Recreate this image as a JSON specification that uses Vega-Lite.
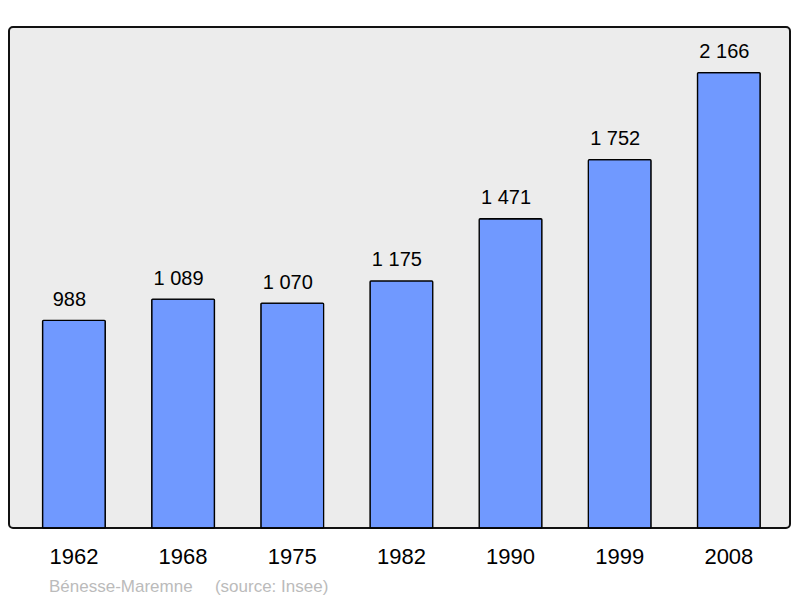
{
  "$schema": "https://vega.github.io/schema/vega-lite/v6.json",
  "width": 781,
  "height": 501,
  "autosize": {"type": "none"},
  "padding": {"left": 9, "top": 27, "right": 10, "bottom": 70},
  "background": "white",
  "config": {
    "font": "Liberation Sans",
    "locale": {"number": {"decimal": ",", "thousands": "\u00a0", "grouping": [3], "currency": ["", " €"]}},
    "view": {"fill": "#ececec", "stroke": "#111111", "strokeWidth": 2, "cornerRadius": 4}
  },
  "title": {
    "text": "Bénesse-Maremne\u00a0\u00a0\u00a0\u00a0\u2009(source: Insee)",
    "orient": "bottom",
    "anchor": "start",
    "frame": "group",
    "dx": 40,
    "offset": 12,
    "fontSize": 17,
    "fontWeight": "normal",
    "color": "#bbbbbb"
  },
  "data": {
    "values": [
      {"year": "1962", "pop": 988},
      {"year": "1968", "pop": 1089},
      {"year": "1975", "pop": 1070},
      {"year": "1982", "pop": 1175},
      {"year": "1990", "pop": 1471},
      {"year": "1999", "pop": 1752},
      {"year": "2008", "pop": 2166}
    ]
  },
  "encoding": {
    "x": {
      "field": "year",
      "type": "nominal",
      "sort": null,
      "scale": {"paddingInner": 0.425, "paddingOuter": 0.29, "align": 0.53},
      "axis": {
        "title": null,
        "domain": false,
        "ticks": false,
        "labelAngle": 0,
        "labelFontSize": 22,
        "labelColor": "#000000",
        "labelPadding": 18
      }
    },
    "y": {
      "field": "pop",
      "type": "quantitative",
      "scale": {"domain": [0, 2383], "nice": false},
      "axis": null
    }
  },
  "layer": [
    {
      "mark": {"type": "bar", "fill": "#7099ff", "stroke": "#000000", "strokeWidth": 1.3, "cornerRadius": 1}
    },
    {
      "mark": {"type": "text", "baseline": "alphabetic", "dx": -4.5, "dy": -14.5, "fontSize": 20, "color": "#000000"},
      "encoding": {"text": {"field": "pop", "type": "quantitative", "format": ",d"}}
    }
  ]
}
